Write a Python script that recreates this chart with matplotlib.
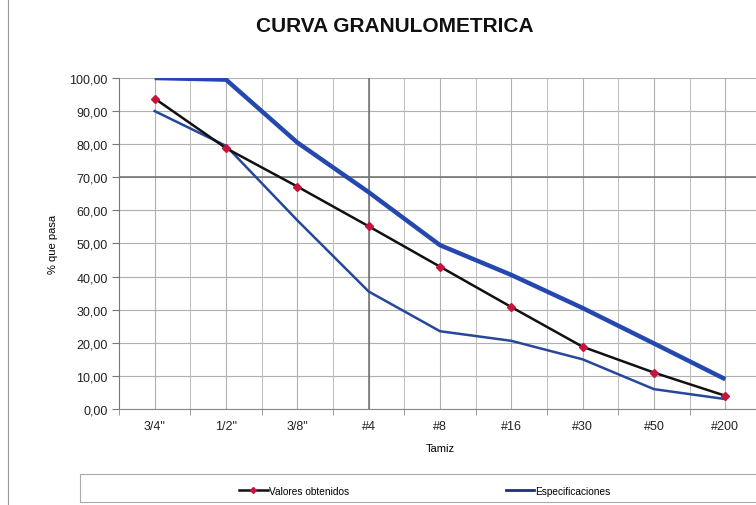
import matplotlib.pyplot as plt
from matplotlib.lines import Line2D
from matplotlib.patches import Rectangle

plt.rcParams['font.family'] = ['Liberation Sans', 'DejaVu Sans']

TAMICES = ['3/4"', '1/2"', '3/8"', '#4', '#8', '#16', '#30', '#50', '#200']
OBTENIDOS = [93.8, 78.8, 67.2, 55.2, 43.0, 30.8, 18.8, 11.0, 4.0]
ESPEC_SUP = [100.0, 99.5, 80.5, 65.5, 49.5, 40.5, 30.5, 19.8, 9.0]
ESPEC_INF = [90.0, 79.5, 57.0, 35.5, 23.5, 20.6, 15.0, 6.0, 3.0]
Y_TICKS = [0, 10, 20, 30, 40, 50, 60, 70, 80, 90, 100]

fig = plt.figure(figsize=(7.56, 5.06), dpi=100)
ax = fig.add_axes([0.1574, 0.1897, 0.8492, 0.6542])

x = list(range(len(TAMICES)))

# grid: horizontal every 10, vertical at categories and between them
for v in Y_TICKS:
    ax.axhline(v, color='#b0b0b0', lw=0.8, zorder=1)
for i in range(len(TAMICES)):
    ax.axvline(i, color='#b0b0b0', lw=0.8, zorder=1)
    ax.axvline(i + 0.5, color='#bdbdbd', lw=0.7, zorder=1)
ax.axhline(70, color='#6e6e6e', lw=1.1, zorder=1)
ax.axvline(3, color='#6e6e6e', lw=1.1, zorder=1)

ax.plot(x, ESPEC_SUP, color='#2447b0', lw=3.2, zorder=3, solid_capstyle='butt')
ax.plot(x, ESPEC_INF, color='#27479a', lw=1.8, zorder=3)
ax.plot(x, OBTENIDOS, color='#111111', lw=1.8, marker='D', markersize=4.5,
        markerfacecolor='#c8143c', markeredgecolor='#c8143c', zorder=4)

ax.set_xlim(-0.5, len(TAMICES) - 0.5)
ax.set_ylim(0, 100)
ax.set_xticks(x)
ax.set_xticklabels(TAMICES, fontsize=9)
ax.set_xticks([i - 0.5 for i in range(len(TAMICES) + 1)], minor=True)
ax.set_yticks(Y_TICKS)
ax.yaxis.set_major_formatter(plt.FuncFormatter(lambda v, p: ('%.2f' % v).replace('.', ',')))
ax.tick_params(axis='y', labelsize=9)
ax.tick_params(axis='x', which='major', length=0, pad=8, colors='#222222')
ax.tick_params(axis='x', which='minor', length=4, color='#888888')
ax.tick_params(axis='y', length=5, color='#777777', pad=3, colors='#222222')
for s in ['top', 'right']:
    ax.spines[s].set_visible(False)
ax.spines['left'].set_color('#777777')
ax.spines['bottom'].set_color('#888888')

ax.set_xlabel('Tamiz', fontsize=8, labelpad=8)
ax.set_ylabel('% que pasa', fontsize=8, labelpad=8)

fig.text(0.5225, 0.947, 'CURVA GRANULOMETRICA', ha='center', va='center',
         fontsize=15, fontweight='bold', color='#111111')

# chart area border on the left
fig.add_artist(Line2D([0.011, 0.011], [0, 1], color='#999999', lw=0.8))

# legend box
fig.add_artist(Rectangle((0.106, 0.006), 0.95, 0.055, transform=fig.transFigure,
                         fill=False, edgecolor='#aaaaaa', lw=0.8))
handles = [Line2D([], [], color='#111111', lw=1.8, marker='D', markersize=3,
                  markerfacecolor='#c8143c', markeredgecolor='#c8143c'),
           Line2D([], [], color='#1f2f80', lw=2.0)]
fig.legend(handles, ['Valores obtenidos', 'Especificaciones'], loc='center',
           bbox_to_anchor=(0.562, 0.028), ncol=2, frameon=False, fontsize=7.3,
           columnspacing=15.5, handlelength=2.8, handletextpad=0.1)

fig.savefig('out.png', dpi=100)
